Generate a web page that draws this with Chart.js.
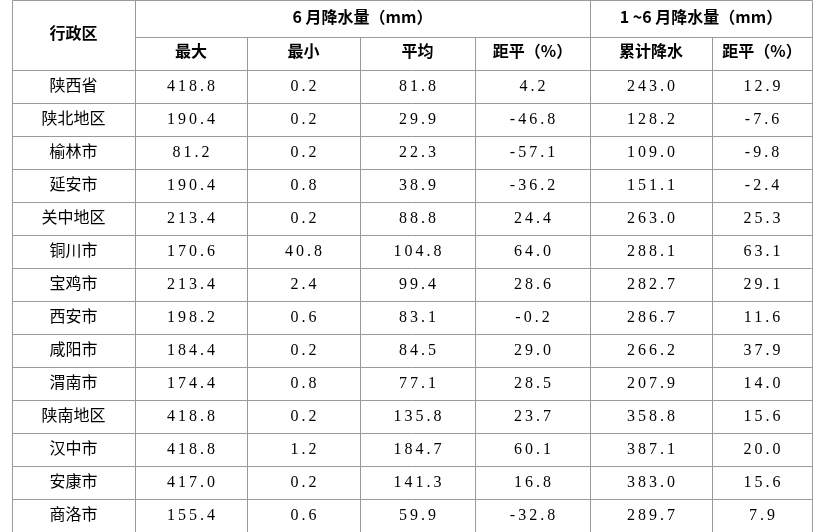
<!DOCTYPE html>
<html><head><meta charset="utf-8">
<script src="https://cdn.jsdelivr.net/npm/chart.js@4/dist/chart.umd.min.js"></script>
<style>html,body{margin:0;padding:0;background:#fff}#w{width:816px;height:532px}</style>
</head><body><div id="w"><canvas id="c"></canvas></div>
<script>
const regions=["陕西省","陕北地区","榆林市","延安市","关中地区","铜川市","宝鸡市","西安市","咸阳市","渭南市","陕南地区","汉中市","安康市","商洛市"];
const junMax=["418.8","190.4","81.2","190.4","213.4","170.6","213.4","198.2","184.4","174.4","418.8","418.8","417.0","155.4"];
const junMin=["0.2","0.2","0.2","0.8","0.2","40.8","2.4","0.6","0.2","0.8","0.2","1.2","0.2","0.6"];
const junAvg=["81.8","29.9","22.3","38.9","88.8","104.8","99.4","83.1","84.5","77.1","135.8","184.7","141.3","59.9"];
const junAnom=["4.2","-46.8","-57.1","-36.2","24.4","64.0","28.6","-0.2","29.0","28.5","23.7","60.1","16.8","-32.8"];
const cumRain=["243.0","128.2","109.0","151.1","263.0","288.1","282.7","286.7","266.2","207.9","358.8","387.1","383.0","289.7"];
const cumAnom=["12.9","-7.6","-9.8","-2.4","25.3","63.1","29.1","11.6","37.9","14.0","15.6","20.0","15.6","7.9"];
const headTop=["行政区","6 月降水量（mm）","1 ~6 月降水量（mm）"];
const headSub=["最大","最小","平均","距平（%）","累计降水","距平（%）"];
const colEdges=[12,135,247,360,475,590,712,812];
const rowEdges=[0,37,70];
for(let i=1;i<=14;i++)rowEdges.push(70+i*33);
const cols=[regions,junMax,junMin,junAvg,junAnom,cumRain,cumAnom];

const tablePlugin={id:'tbl',afterDraw(ch){
 const c=ch.ctx,X=ch.scales.x,Y=ch.scales.y;
 const px=v=>X.getPixelForValue(v),py=v=>Y.getPixelForValue(v);
 c.save();c.strokeStyle='#9a9a9a';c.lineWidth=1;
 const L=(x1,y1,x2,y2)=>{c.beginPath();c.moveTo(Math.round(x1)+.5,Math.round(y1)+.5);c.lineTo(Math.round(x2)+.5,Math.round(y2)+.5);c.stroke();};
 L(px(colEdges[0]),py(0),px(colEdges[7]),py(0));
 L(px(colEdges[1]),py(37),px(colEdges[7]),py(37));
 for(let i=2;i<rowEdges.length;i++)L(px(colEdges[0]),py(rowEdges[i]),px(colEdges[7]),py(rowEdges[i]));
 L(px(colEdges[0]),py(0),px(colEdges[0]),py(532));
 L(px(colEdges[1]),py(0),px(colEdges[1]),py(532));
 L(px(colEdges[5]),py(0),px(colEdges[5]),py(532));
 L(px(colEdges[7]),py(0),px(colEdges[7]),py(532));
 [2,3,4,6].forEach(k=>L(px(colEdges[k]),py(37),px(colEdges[k]),py(532)));
 c.fillStyle='#000';c.textAlign='center';c.textBaseline='middle';
 c.font='bold 16px "Noto Sans CJK SC"';
 c.fillText(headTop[0],(px(colEdges[0])+px(colEdges[1]))/2,py(33));
 c.fillText(headTop[1],(px(colEdges[1])+px(colEdges[5]))/2,py(17));
 c.fillText(headTop[2],(px(colEdges[5])+px(colEdges[7]))/2,py(17));
 headSub.forEach((h,k)=>c.fillText(h,(px(colEdges[k+1])+px(colEdges[k+2]))/2,py(51)));
 for(let r=0;r<14;r++){
  const yc=py((rowEdges[r+2]+rowEdges[r+3])/2);
  cols.forEach((arr,k)=>{
   const cx=(px(colEdges[k])+px(colEdges[k+1]))/2;
   if(k==0){c.letterSpacing='0px';c.font='16px "Noto Sans CJK SC"';c.fillText(arr[r],cx,yc-2);}
   else{c.letterSpacing='3px';c.font='16px "Liberation Serif"';c.fillText(arr[r],cx+1.5,yc);}
  });
 }
 c.restore();
}};
new Chart(document.getElementById('c'),{type:'scatter',data:{datasets:[{data:[]}]},
 options:{responsive:true,maintainAspectRatio:false,animation:false,layout:{padding:0},
  plugins:{legend:{display:false},tooltip:{enabled:false}},
  scales:{x:{type:'linear',min:0,max:816,display:false},y:{type:'linear',min:0,max:532,reverse:true,display:false}}},
 plugins:[tablePlugin]});
</script></body></html>
